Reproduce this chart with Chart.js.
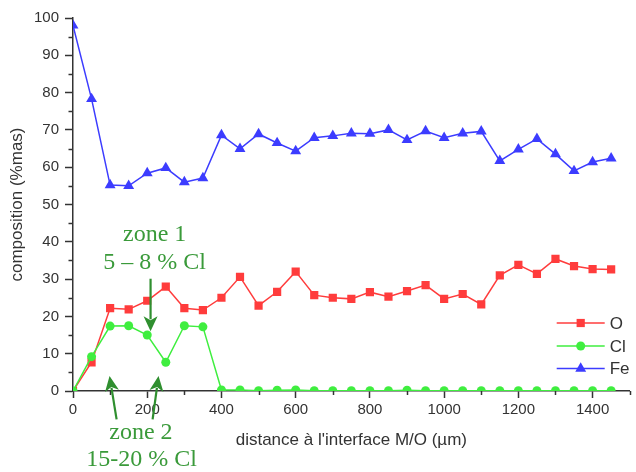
<!DOCTYPE html>
<html><head><meta charset="utf-8">
<script src="https://cdn.jsdelivr.net/npm/chart.js@4.4.1/dist/chart.umd.min.js"></script>
<style>html,body{margin:0;padding:0;background:#fff}#wrap{width:636px;height:472px;position:relative}</style>
</head><body><div id="wrap"><canvas id="c" width="636" height="472"></canvas></div>
<script>
// ---- data ----
const distances = [0,50,100,150,200,250,300,350,400,450,500,550,600,650,700,750,800,850,900,950,1000,1050,1100,1150,1200,1250,1300,1350,1400,1450];
const oValues  = [0,7.7,22.2,21.9,24.2,28,22.2,21.7,25,30.6,22.9,26.6,32,25.7,25,24.7,26.5,25.3,26.8,28.4,24.7,26,23.2,31,33.8,31.4,35.4,33.5,32.7,32.6];
const clValues = [0,9.2,17.4,17.5,15,7.7,17.5,17.2,0.3,0.3,0.1,0.2,0.3,0.1,0.1,0.1,0.1,0.1,0.2,0.1,0.1,0.1,0.1,0.1,0.1,0.1,0.1,0.1,0.1,0.1];
const feValues = [98,78.3,55.2,55,58.4,59.8,56,57.1,68.6,64.9,68.9,66.5,64.3,67.9,68.4,69.1,69,70,67.3,69.7,67.9,69.1,69.6,61.7,64.8,67.6,63.5,59,61.4,62.4];
const seriesNames = ['O','Cl','Fe'];
const xTickLabels = [0,200,400,600,800,1000,1200,1400];
const yTickLabels = [0,10,20,30,40,50,60,70,80,90,100];
const xTitle = "distance à l'interface M/O (µm)";
const yTitle = "composition (%mas)";
const zoneTexts = [["zone 1","5 – 8 % Cl"],["zone 2","15-20 % Cl"]];

// ---- styles ----
const colors = {O:'#ff3c3c', Cl:'#3fee3f', Fe:'#3c3cff'};
const styles = {O:'rect', Cl:'circle', Fe:'triangle'};
const radii = {O:5.8, Cl:4.5, Fe:6.3};
const axisColor = '#333333';
const annColor = '#3a9a3a';
const arrowColor = '#2f8f2f';
const sans = "'Liberation Sans', Arial, sans-serif";
const serif = "'Liberation Serif', 'Times New Roman', serif";

function pts(vals){ return distances.map((d,i)=>({x:d,y:vals[i]})); }
const valuesByName = {O:oValues, Cl:clValues, Fe:feValues};
const drawOrder = {Cl:0, O:1, Fe:2};

const datasets = seriesNames.map(n => ({
  label:n, data:pts(valuesByName[n]), borderColor:colors[n], backgroundColor:colors[n],
  borderWidth:1.5, pointStyle:styles[n], pointRadius:radii[n], pointBorderWidth:0,
  pointBackgroundColor:colors[n], pointBorderColor:colors[n], tension:0, order:drawOrder[n]
}));

const minorTicks = {
  id:'minorTicks',
  afterDraw(chart){
    const ctx = chart.ctx, xs = chart.scales.x, ys = chart.scales.y, a = chart.chartArea;
    ctx.save(); ctx.strokeStyle = axisColor; ctx.lineWidth = 1.5;
    xs.ticks.forEach(t => { if (!xTickLabels.includes(t.value)) { const p = Math.round(xs.getPixelForValue(t.value))+0.5; ctx.beginPath(); ctx.moveTo(p,a.bottom); ctx.lineTo(p,a.bottom+4); ctx.stroke(); }});
    ys.ticks.forEach(t => { if (!yTickLabels.includes(t.value)) { const p = Math.round(ys.getPixelForValue(t.value))+0.5; ctx.beginPath(); ctx.moveTo(a.left,p); ctx.lineTo(a.left-4.5,p); ctx.stroke(); }});
    ctx.restore();
  }
};

function drawMarker(ctx, style, x, y, r, color){
  ctx.fillStyle = color; ctx.beginPath();
  if (style==='rect'){ const s=r*Math.SQRT1_2; ctx.rect(x-s,y-s,2*s,2*s); }
  else if (style==='circle'){ ctx.arc(x,y,r,0,Math.PI*2); }
  else { ctx.moveTo(x,y-r); ctx.lineTo(x+r*0.866,y+r/2); ctx.lineTo(x-r*0.866,y+r/2); ctx.closePath(); }
  ctx.fill();
}

const customLegend = {
  id:'customLegend',
  afterDraw(chart){
    const ctx = chart.ctx, a = chart.chartArea;
    const x1 = a.right-73, x2 = a.right-25, xm = (x1+x2)/2, tx = a.right-20;
    const rows = [323,346,368.5];
    ctx.save();
    seriesNames.forEach((n,i)=>{
      const y = rows[i];
      ctx.strokeStyle = colors[n]; ctx.lineWidth = 1.5;
      ctx.beginPath(); ctx.moveTo(x1,y); ctx.lineTo(x2,y); ctx.stroke();
      drawMarker(ctx, styles[n], xm, y, radii[n], colors[n]);
      ctx.fillStyle = axisColor; ctx.font = '17px '+sans; ctx.textBaseline='middle'; ctx.textAlign='left';
      ctx.fillText(n, tx, y+1);
    });
    ctx.restore();
  }
};

// annotations in data units
const annTexts = [
  {text:zoneTexts[0][0], x:220, y:41.9},
  {text:zoneTexts[0][1], x:220, y:34.4},
  {text:zoneTexts[1][0], x:183, y:-11.1},
  {text:zoneTexts[1][1], x:185, y:-18.3}
];
const annArrows = [
  {from:[209,30.1], to:[209,16]},
  {from:[117.5,-7.6], to:[98.5,4]},
  {from:[214.5,-7.6], to:[230.5,4]}
];
const annotations = {
  id:'annotations',
  afterDraw(chart){
    const ctx = chart.ctx, xs = chart.scales.x, ys = chart.scales.y;
    ctx.save();
    ctx.font = '24px '+serif; ctx.fillStyle = annColor; ctx.textAlign='center'; ctx.textBaseline='middle';
    annTexts.forEach(t => ctx.fillText(t.text, xs.getPixelForValue(t.x), ys.getPixelForValue(t.y)));
    annArrows.forEach(ar => {
      const x0 = xs.getPixelForValue(ar.from[0]), y0 = ys.getPixelForValue(ar.from[1]);
      const x1 = xs.getPixelForValue(ar.to[0]), y1 = ys.getPixelForValue(ar.to[1]);
      const ang = Math.atan2(y1-y0, x1-x0), L = 15, W = 7;
      const bx = x1 - L*Math.cos(ang), by = y1 - L*Math.sin(ang);
      ctx.strokeStyle = arrowColor; ctx.lineWidth = 2.2;
      ctx.beginPath(); ctx.moveTo(x0,y0); ctx.lineTo(bx+3*Math.cos(ang),by+3*Math.sin(ang)); ctx.stroke();
      ctx.fillStyle = arrowColor; ctx.beginPath();
      ctx.moveTo(x1,y1);
      ctx.lineTo(bx - W*Math.sin(ang), by + W*Math.cos(ang));
      ctx.lineTo(x1 - (L-4)*Math.cos(ang), y1 - (L-4)*Math.sin(ang));
      ctx.lineTo(bx + W*Math.sin(ang), by - W*Math.cos(ang));
      ctx.closePath(); ctx.fill();
    });
    ctx.restore();
  }
};

new Chart(document.getElementById('c'), {
  type:'line',
  data:{datasets},
  options:{
    responsive:false, animation:false, devicePixelRatio:1,
    layout:{padding:{top:18,right:4,left:0,bottom:0}},
    plugins:{legend:{display:false}, tooltip:{enabled:false}},
    scales:{
      x:{type:'linear', min:0, max:1500,
        afterFit(s){ s.height = 81; },
        border:{color:axisColor, width:1.5},
        grid:{drawOnChartArea:false, tickLength:7, tickWidth:1.5,
          tickColor:c => xTickLabels.includes(c.tick.value) ? axisColor : 'rgba(0,0,0,0)'},
        ticks:{stepSize:100, autoSkip:false, maxRotation:0, color:axisColor, padding:3,
          font:{family:sans, size:15},
          callback:v => xTickLabels.includes(v) ? String(v) : ''},
        title:{display:true, text:xTitle, color:axisColor, font:{family:sans, size:17}, padding:{top:0,bottom:21}}
      },
      y:{type:'linear', min:0, max:100,
        afterFit(s){ s.width = 73; },
        border:{color:axisColor, width:1.5},
        grid:{drawOnChartArea:false, tickLength:8, tickWidth:1.5,
          tickColor:c => yTickLabels.includes(c.tick.value) ? axisColor : 'rgba(0,0,0,0)'},
        ticks:{stepSize:5, autoSkip:false, color:axisColor, padding:6,
          font:{family:sans, size:15},
          callback:v => yTickLabels.includes(v) ? String(v) : ''},
        title:{display:true, text:yTitle, color:axisColor, font:{family:sans, size:17}, padding:{top:7,bottom:0}}
      }
    }
  },
  plugins:[minorTicks, customLegend, annotations]
});
</script></body></html>
